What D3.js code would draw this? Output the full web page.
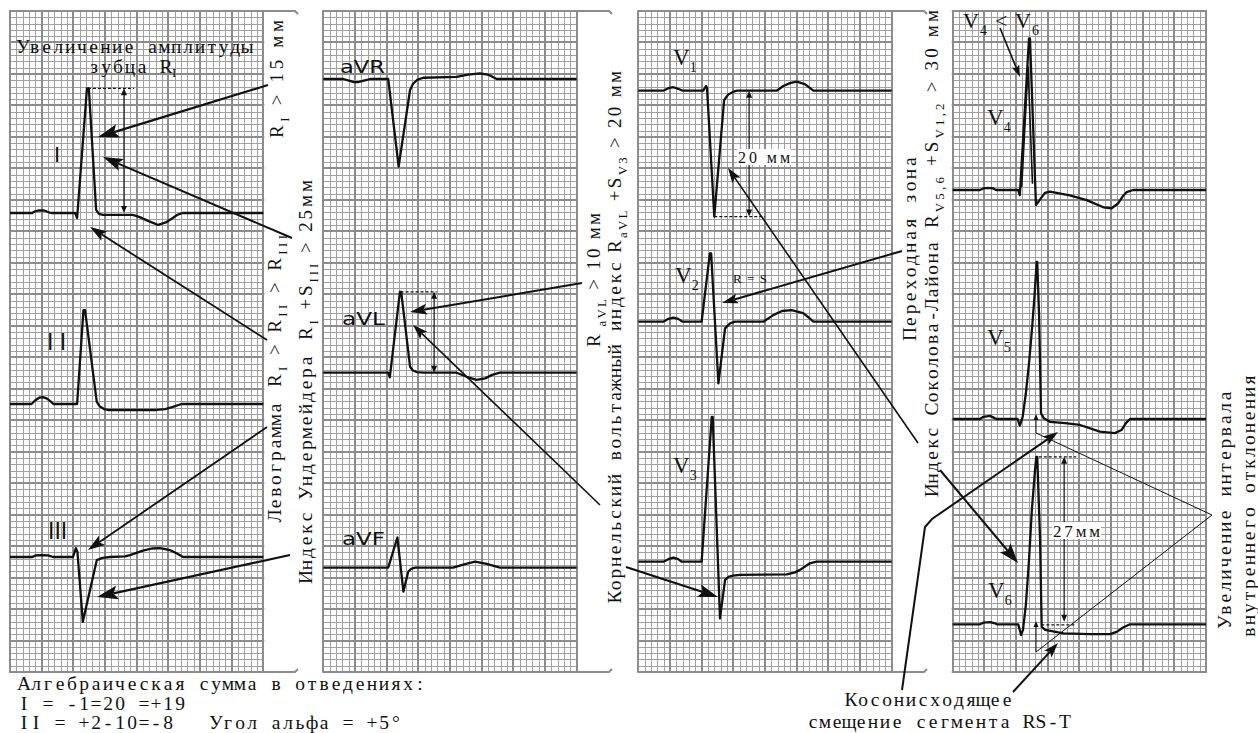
<!DOCTYPE html>
<html><head><meta charset="utf-8">
<script src="https://cdn.jsdelivr.net/npm/d3@7/dist/d3.min.js"></script>
<style>
html,body{margin:0;padding:0;background:#fff;}
svg{display:block;}
text{white-space:pre;}
</style></head><body>
<svg id="c" width="1258" height="733"></svg>
<script>
// ---------- DATA (time in mm of paper, amplitude in mm) ----------
const leadNames = ["I","II","III","aVR","aVL","aVF","V1","V2","V3","V4","V5","V6"];
const leadI = [[0,0],[3.5,0],[3.9,0.25],[4.6,0.4],[5.4,0.4],[6.0,0.15],[6.5,0],[10.3,0],[10.6,-0.8],[12.15,19.8],[12.45,19.8],[13.6,0.5],[14.05,-0.15],[14.7,-0.3],[19.4,-0.3],[20.5,-0.65],[21.8,-1.25],[23.4,-1.9],[24.6,-1.5],[25.7,-0.8],[26.5,-0.25],[27.3,0],[40,0]];
const leadII = [[0,0],[3.4,0],[3.95,0.55],[4.6,1.0],[5.2,1.1],[5.85,0.85],[6.4,0.4],[6.85,0],[10.6,0],[11.6,14.9],[11.85,14.9],[13.7,0.35],[14.2,-0.4],[14.85,-0.8],[15.5,-0.95],[23.15,-0.95],[24.5,-0.8],[25.6,-0.5],[27.1,0],[40,0]];
const leadIII = [[0,0],[3.5,0],[4.1,0.25],[5.05,0.3],[6.0,0.25],[6.8,0],[9.95,0],[10.4,1.4],[10.65,0.8],[11.5,-10.3],[13.7,-0.5],[14.6,-0.15],[15.8,0],[18.15,0.1],[18.95,0.3],[21.0,1.0],[22.4,1.35],[23.7,1.4],[25.25,1.1],[26.35,0.55],[27.35,0],[40,0]];
const leadAVR = [[0,0],[3.15,0],[4.2,-0.3],[4.85,-0.5],[5.5,-0.5],[6.25,-0.3],[7.05,-0.1],[7.4,0],[10.25,0],[11.9,-13.9],[13.7,-1.75],[14.15,-0.8],[14.8,-0.15],[15.8,0.2],[21.05,0.35],[22.85,0.7],[24.75,0.9],[26.15,0.65],[27.4,0],[40,0]];
const leadAVL = [[0,0],[10.25,0],[10.5,-0.75],[12.1,12.85],[12.3,12.85],[13.7,0.95],[14.15,0.35],[14.8,0.1],[15.8,0],[21.05,0],[22.65,-0.65],[24.2,-1.15],[25.55,-0.9],[26.65,-0.35],[27.9,0],[40,0]];
const leadAVF = [[0,0],[10.25,0],[11.7,4.8],[12.65,-3.8],[13.4,-0.65],[13.85,-0.2],[14.5,0],[20.5,0],[22.1,0.5],[23.95,0.95],[25.8,0.6],[27.9,0],[40,0]];
const leadV1 = [[0,0],[3.95,0],[4.75,0.4],[5.55,0.55],[6.3,0.3],[7.0,0],[10.25,0],[10.7,0.75],[10.85,0.45],[12.0,-20.0],[13.55,-1.5],[14.2,-0.6],[14.95,-0.2],[15.55,0],[21.85,0],[22.9,0.75],[23.95,1.2],[25.0,1.45],[26.3,1.05],[27.65,0],[40,0]];
const leadV2 = [[0,0],[3.95,0],[4.75,0.45],[5.55,0.65],[6.3,0.45],[7.0,0],[10.0,0],[11.3,10.85],[11.5,10.85],[12.65,-9.8],[13.7,-1.05],[14.5,-0.25],[15.3,0],[19.75,0],[21.3,1.05],[22.7,1.7],[24.2,1.85],[26.05,1.35],[26.8,0.75],[27.65,0],[40,0]];
const leadV3 = [[0,0],[3.95,0],[4.75,0.4],[5.55,0.65],[6.3,0.4],[6.85,0],[10.0,0],[11.6,23.0],[11.75,23.0],[12.9,-9.0],[13.7,-2.9],[14.35,-2.35],[14.95,-2.2],[16.05,-2.1],[23.45,-2.0],[24.75,-1.7],[25.55,-1.3],[27.1,-0.25],[28.15,0],[40,0]];
const leadV4 = [[0,0],[4.3,0],[4.85,0.25],[5.6,0.35],[6.4,0.25],[6.85,0],[10.35,0],[10.6,-0.8],[12.05,24.1],[12.2,24.1],[13.15,-2.4],[14.55,-0.45],[15.35,-0.25],[18.5,-0.85],[21.15,-1.6],[23.8,-2.75],[25.1,-2.9],[26.15,-2.1],[26.9,-0.95],[27.45,-0.35],[28.5,0],[40,0]];
const leadV4inner = [[10.9,0.5],[11.9,19.6],[12.6,1.0]];
const leadV5 = [[0,0],[4.3,0],[4.85,0.35],[5.9,0.5],[6.7,0.1],[6.95,0],[10.25,0],[10.6,-1.05],[11.05,0.35],[11.55,4.05],[12.1,9.35],[12.55,14.65],[12.95,19.95],[13.25,24.95],[13.35,24.95],[13.65,16.25],[13.95,0.9],[14.4,0.1],[15.35,-0.45],[17.75,-0.65],[20.1,-0.95],[23.25,-2.0],[25.6,-2.25],[26.65,-1.75],[27.35,-0.65],[28.0,0],[40,0]];
const leadV6 = [[0,0],[4.3,0],[4.85,0.25],[5.9,0.35],[6.7,0.15],[6.95,0],[10.35,0],[10.8,-1.7],[11.1,-0.9],[11.55,3.05],[12.05,10.2],[12.5,18.15],[13.0,24.5],[13.2,26.6],[13.35,26.6],[13.8,13.4],[14.05,-0.4],[14.6,-0.9],[17.5,-1.45],[21.7,-1.55],[24.85,-1.55],[25.9,-1.2],[26.9,-0.5],[28.0,0],[40,0]];
const leadData = {I:leadI, II:leadII, III:leadIII, aVR:leadAVR, aVL:leadAVL, aVF:leadAVF, V1:leadV1, V2:leadV2, V3:leadV3, V4:leadV4, V5:leadV5, V6:leadV6};

const bottomLines = ["Алгебраическая сумма в отведениях:", "I = -1=20 =+19", "II = +2-10=-8   Угол альфа = +5°"];

// ---------- LAYOUT ----------
const svg = d3.select("#c");
const SERIF = "'Liberation Serif','Times New Roman',serif";
const SANS = "'DejaVu Sans','Liberation Sans',sans-serif";
const MS = 19.5; // size of the Courier-like texts
const panelX = [10, 323.3, 638.3, 952.7];
const gridW = 253.3, gridTop = 11, gridBottom = 672;
const mmY = (gridBottom-gridTop)/105;
const leadLayout = {I:[0,213], II:[0,404], III:[0,557], aVR:[1,79], aVL:[1,372.7], aVF:[1,567.7],
  V1:[2,90.7], V2:[2,321.7], V3:[2,561.7], V4:[3,190], V5:[3,419], V6:[3,624.3]};

const xScales = panelX.map(x0 => d3.scaleLinear().domain([0,40]).range([x0, x0+gridW]));
const gyScale = d3.scaleLinear().domain([0,105]).range([gridTop, gridBottom]);
const yScales = {};
leadNames.forEach(n => { const b = leadLayout[n][1]; yScales[n] = d3.scaleLinear().domain([0,1]).range([b, b-mmY]); });

// ---------- GRID ----------
const MINOR = "#a0a0a0", MAJOR = "#8c8c8c";
const gridG = svg.append("g");
panelX.forEach((x0,p) => {
  const xs = xScales[p];
  const vx = d3.range(0,41), hy = d3.range(0,106);
  [false,true].forEach(major => {
    vx.filter(k => (k%5===0)===major).forEach(k => {
      const x = major ? Math.round(xs(k)) : Math.round(xs(k))+0.5;
      gridG.append("line").attr("x1",x).attr("x2",x).attr("y1",gridTop).attr("y2",gridBottom)
        .attr("stroke", major?MAJOR:MINOR).attr("stroke-width", major?2:1);
    });
    hy.filter(k => (k%5===0)===major).forEach(k => {
      const y = major ? Math.round(gyScale(k)) : Math.round(gyScale(k))+0.5;
      gridG.append("line").attr("x1",x0-(major?1:0)).attr("x2",x0+gridW+(major?1:0)).attr("y1",y).attr("y2",y)
        .attr("stroke", major?MAJOR:MINOR).attr("stroke-width", major?2:1);
    });
  });
  if (p < 3) {
    const xr = Math.round(x0+gridW);
    gridG.append("path").attr("d", `M${xr},${gridTop} H${xr+32} l3,3`).attr("fill","none").attr("stroke",MAJOR).attr("stroke-width",2);
    gridG.append("path").attr("d", `M${xr},${gridBottom} H${xr+32} l3,-3`).attr("fill","none").attr("stroke",MAJOR).attr("stroke-width",2);
  }
});

// ---------- TRACES ----------
const traceG = svg.append("g");
leadNames.forEach(n => {
  const xs = xScales[leadLayout[n][0]], ys = yScales[n];
  const line = d3.line().x(d => xs(d[0])).y(d => ys(d[1]));
  traceG.append("path").attr("d", line(leadData[n])).attr("fill","none").attr("stroke","#111")
    .attr("stroke-width",2.3).attr("stroke-linejoin","round");
});
{
  const xs = xScales[3], ys = yScales.V4;
  traceG.append("path").attr("d", d3.line().x(d=>xs(d[0])).y(d=>ys(d[1]))(leadV4inner))
    .attr("fill","none").attr("stroke","#111").attr("stroke-width",1.6);
}

// ---------- TEXT HELPERS ----------
const measurer = svg.append("text").attr("font-family", SERIF).attr("visibility","hidden");
const wCache = {};
function charW(ch, size) {
  const k = ch + "|" + size;
  if (wCache[k] === undefined) {
    measurer.attr("font-size", size).text(ch === " " ? "\u00a0" : ch);
    wCache[k] = measurer.node().getComputedTextLength();
  }
  return wCache[k];
}
function mono(parent, str, x0, y0, size, pitch) {
  const chars = Array.from(str);
  const xs = chars.map((ch,i) => (x0 + i*pitch + (pitch - charW(ch,size))/2).toFixed(2));
  return parent.append("text").attr("x", xs.join(" ")).attr("y", y0).attr("font-family", SERIF)
    .attr("font-size", size).attr("fill","#111").text(str);
}
function addParts(t, parts, size, fam) {
  let shifted = 0;
  parts.forEach(p => {
    const ts = t.append("tspan").text(p.t).attr("font-family", p.f || fam)
      .attr("font-size", p.sub ? (p.ss || size*0.68) : size);
    const target = p.sub ? size*0.3 : 0;
    if (target !== shifted) { ts.attr("dy", target - shifted); shifted = target; }
  });
  return t;
}
function htext(x, y, parts, size, fam, len, adj) {
  const t = svg.append("text").attr("x", x).attr("y", y).attr("fill","#111");
  if (len) t.attr("textLength", len).attr("lengthAdjust", adj || "spacing");
  return addParts(t, parts, size, fam);
}
function vgroup(x, y) { return svg.append("g").attr("transform", `translate(${x},${y}) rotate(-90)`); }
function vformula(g, off, len, parts, size) {
  return addParts(g.append("text").attr("x", off).attr("y", 0).attr("fill","#111")
    .attr("textLength", len).attr("lengthAdjust","spacing"), parts, size, SERIF);
}

const annG = svg.append("g");
function arrow(pts, L, W, sw) {
  const n = pts.length;
  const [x2,y2] = pts[n-1], [x1,y1] = pts[n-2];
  const a = Math.atan2(y2-y1, x2-x1), c = Math.cos(a), s = Math.sin(a);
  const nx = x2 - L*0.8*c, ny = y2 - L*0.8*s;
  const bx = x2 - L*c, by = y2 - L*s;
  const lp = pts.slice(0,-1).concat([[nx,ny]]);
  annG.append("path").attr("d", d3.line()(lp)).attr("fill","none").attr("stroke","#111").attr("stroke-width",sw);
  annG.append("path").attr("d", `M${x2},${y2} L${bx - W/2*s},${by + W/2*c} L${nx},${ny} L${bx + W/2*s},${by - W/2*c} Z`).attr("fill","#111");
}
function dimLine(x, y1, y2) {
  annG.append("line").attr("x1",x).attr("x2",x).attr("y1",y1+4).attr("y2",y2-4).attr("stroke","#111").attr("stroke-width",1.2);
  annG.append("path").attr("d", `M${x},${y1} l-3,7 h6 Z`).attr("fill","#111");
  annG.append("path").attr("d", `M${x},${y2} l-3,-7 h6 Z`).attr("fill","#111");
}
function dashed(x1, x2, y) {
  annG.append("line").attr("x1",x1).attr("x2",x2).attr("y1",y).attr("y2",y).attr("stroke","#111").attr("stroke-width",1.2).attr("stroke-dasharray","3,2");
}
function px(n, t) { return xScales[leadLayout[n][0]](t); }
function py(n, a) { return yScales[n](a); }
const maxA = n => d3.max(leadData[n], d => d[1]);
const minA = n => d3.min(leadData[n], d => d[1]);

// ---------- DIMENSIONS ----------
dashed(px("I",12.3), px("I",19.6), py("I",maxA("I")));
dimLine(px("I",18.0), py("I",maxA("I")), py("I",0));
dashed(px("aVL",12.2), px("aVL",17.9), py("aVL",maxA("aVL")));
dimLine(px("aVL",17.5), py("aVL",maxA("aVL")), py("aVL",0));
dashed(px("V1",12.0), px("V1",20.0), py("V1",minA("V1")));
dimLine(px("V1",17.5), py("V1",0), py("V1",minA("V1")));
dashed(px("V6",13.6), px("V6",19.5), py("V6",maxA("V6")));
dashed(px("V6",14.0), px("V6",19.2), py("V6",-0.1));
dimLine(px("V6",17.6), py("V6",maxA("V6")), py("V6",0.4));

annG.append("rect").attr("x",737).attr("y",149).attr("width",54).attr("height",16).attr("fill","#fff");
htext(738, 163, [{t:"20 мм"}], 16, SERIF, 52);
annG.append("rect").attr("x",1052).attr("y",522).attr("width",49).attr("height",17).attr("fill","#fff");
htext(1053, 537, [{t:"27мм"}], 17, SERIF, 47);

// ---------- ARROWS ----------
arrow([[268,85],[98,137]], 21, 14, 2.2);
arrow([[292,238],[103,157]], 20, 13, 2);
arrow([[267,340],[90,227]], 17, 11, 1.8);
arrow([[267,427],[88,550]], 17, 11, 1.8);
arrow([[290,555],[97,597]], 21, 14, 2.2);
arrow([[582,283],[410,312]], 17, 11, 2);
arrow([[600,505],[413,325]], 15, 10, 1.6);
arrow([[626,567],[718,597]], 20, 13, 2.2);
arrow([[902,251],[722,303]], 16, 10, 2);
arrow([[918,443],[728,168]], 15, 10, 1.6);
arrow([[940,470],[1018,563]], 20, 14, 2);
arrow([[902,690],[925,527],[932,519],[1058,432]], 15, 10, 2);
arrow([[1013,692],[1058,643]], 15, 10, 2);
arrow([[1000,28],[1020,77]], 12, 8, 1.6);
annG.append("path").attr("d","M1212,515 L1036,433 M1212,515 L1036,652 M1036,433 V417 M1036,652 V624").attr("fill","none").attr("stroke","#111").attr("stroke-width",1);
annG.append("path").attr("d","M1036,414 l-2.5,6 h5 Z M1036,621 l-2.5,6 h5 Z").attr("fill","#111");

// ---------- LEAD LABELS ----------
htext(54, 162, [{t:"I"}], 22, "'Liberation Sans',sans-serif");
htext(47, 350, [{t:"I I"}], 23, "'Liberation Sans',sans-serif");
htext(48, 539, [{t:"III"}], 23, "'Liberation Sans',sans-serif");
htext(340, 73, [{t:"aVR"}], 17, SANS, 45, "spacingAndGlyphs");
htext(342, 325, [{t:"aVL"}], 17, SANS, 43, "spacingAndGlyphs");
htext(342, 545, [{t:"aVF"}], 17, SANS, 43, "spacingAndGlyphs");
[["V1",673,65,"1"],["V2",675,283,"2"],["V3",673,473,"3"],["V4",987,125,"4"],["V5",987,345,"5"],["V6",988,598,"6"]].forEach(d => {
  htext(d[1], d[2], [{t:"V"},{t:d[3], sub:true, ss:14}], 23, SERIF);
});
htext(963, 28, [{t:"V"},{t:"4",sub:true,ss:14},{t:" < "},{t:"V"},{t:"6",sub:true,ss:14}], 22, SERIF, 76);
htext(733, 283, [{t:"R=S"}], 13, SERIF, 34);

// ---------- TEXTS ----------
mono(svg, "Увеличение амплитуды", 17, 53, MS, 11.8);
mono(svg, "зубца R", 88, 73, MS, 12);
htext(172, 77, [{t:"I"}], 13, SERIF);

vformula(vgroup(283,138), 0, 118, [{t:"R"},{t:"I",sub:true},{t:" > 15 мм"}], 19);
{ const g = vgroup(281,522); mono(g, "Левограмма", 0, 0, MS, 12);
  vformula(g, 135, 152, [{t:"R"},{t:"I",sub:true},{t:" > R"},{t:"II",sub:true},{t:" > R"},{t:"III",sub:true}], 19); }
{ const g = vgroup(312,583); mono(g, "Индекс Ундермейдера", 0, 0, MS, 12);
  vformula(g, 243, 160, [{t:"R"},{t:"I",sub:true},{t:" +S"},{t:"III",sub:true},{t:" > 25мм"}], 19); }
vformula(vgroup(600,347), 0, 134, [{t:"R"},{t:" aVL",sub:true},{t:" > 10 мм"}], 19);
{ const g = vgroup(621,603); mono(g, "Корнельский вольтажный индекс", 0, 0, MS, 11.8);
  vformula(g, 350, 182, [{t:"R"},{t:"aVL",sub:true},{t:" +S"},{t:"V3",sub:true},{t:" > 20 мм"}], 19); }
mono(vgroup(916,340), "Переходная зона", 0, 0, MS, 12.3);
{ const g = vgroup(938,496); mono(g, "Индекс Соколова-Лайона", 0, 0, MS, 11.6);
  vformula(g, 268, 218, [{t:"R"},{t:"V5,6",sub:true},{t:" +S"},{t:"V1,2",sub:true},{t:" > 30 мм"}], 19); }
mono(vgroup(1231,628), "Увеличение интервала", 0, 0, MS, 11.9);
mono(vgroup(1255,638), "внутреннего отклонения", 0, 0, MS, 12);

bottomLines.forEach((s,i) => mono(svg, s, 18, 690 + i*19.5, MS, 12));
mono(svg, "Косонисходящее", 845, 706, MS, 12);
mono(svg, "смещение сегмента RS-T", 807, 728, MS, 12);
</script></body></html>
